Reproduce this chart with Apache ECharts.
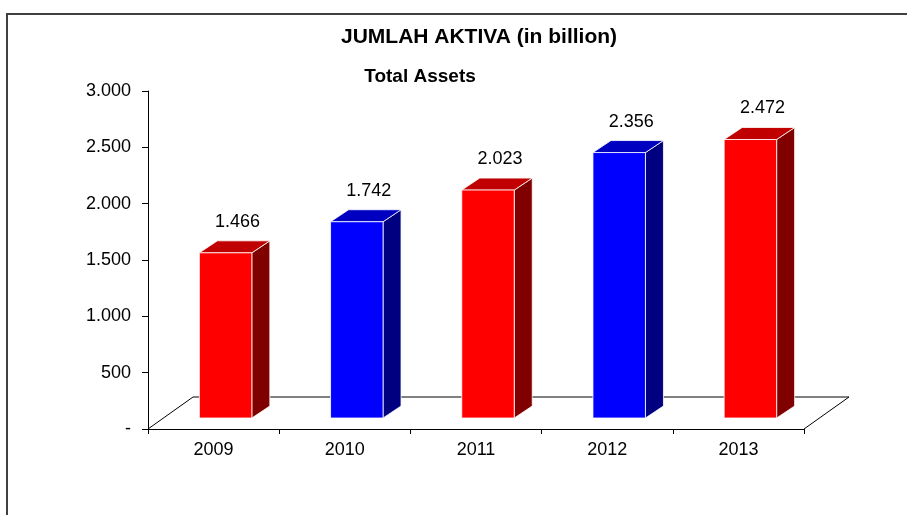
<!DOCTYPE html>
<html>
<head>
<meta charset="utf-8">
<script src="https://cdn.jsdelivr.net/npm/echarts@6/dist/echarts.min.js"></script>
<style>
  html, body { margin: 0; padding: 0; background: #fff; }
  #chart { width: 907px; height: 515px; }
</style>
</head>
<body>
<div id="chart"></div>
<script>
// data
const years = ["2009", "2010", "2011", "2012", "2013"];
const assets = [1466, 1742, 2023, 2356, 2472];
const yTicks = [0, 500, 1000, 1500, 2000, 2500, 3000];

// red / blue alternating, front / top / side faces
const palette = [
  {front: "#ff0000", top: "#c00000", side: "#800000"},
  {front: "#0000ff", top: "#0000c0", side: "#000080"}
];

const FONT = "Liberation Sans, Arial, sans-serif";

function dots(v) {
  if (v === 0) return "-";
  return String(v).replace(/\B(?=(\d{3})+(?!\d))/g, ".");
}

const chart = echarts.init(document.getElementById("chart"));

const options = {
  animation: false,
  textStyle: {fontFamily: FONT},
  title: [
    {
      text: "JUMLAH AKTIVA (in billion)",
      left: 474, top: 22, textAlign: "center",
      textStyle: {fontSize: 21, fontWeight: "bold", color: "#000"}
    },
    {
      text: "Total Assets",
      left: 415, top: 62, textAlign: "center",
      textStyle: {fontSize: 19, fontWeight: "bold", color: "#000"}
    }
  ],
  graphic: [{
    type: "rect",
    shape: {x: 7, y: 14, width: 1000, height: 600},
    style: {fill: "none", stroke: "#404040", lineWidth: 2},
    silent: true
  }],
  grid: {left: 148, right: 103, top: 91, bottom: 86},
  xAxis: {
    type: "category",
    data: years,
    boundaryGap: true,
    axisLine: {lineStyle: {color: "#000", width: 1}},
    axisTick: {show: true, length: 5, lineStyle: {color: "#000"}},
    axisLabel: {color: "#000", fontSize: 18, margin: 12}
  },
  yAxis: {
    type: "value",
    min: yTicks[0],
    max: yTicks[yTicks.length - 1],
    interval: 500,
    axisLine: {show: true, lineStyle: {color: "#000", width: 1}},
    axisTick: {show: true, length: 6, lineStyle: {color: "#000"}},
    splitLine: {show: false},
    axisLabel: {color: "#000", fontSize: 18, margin: 17, formatter: dots}
  },
  series: [
    {
      // 3D floor
      type: "custom",
      z: 1,
      data: [[0, 0]],
      renderItem: function (params, api) {
        const cs = params.coordSys;
        const y0 = cs.y + cs.height;
        const dx = 45, dy = -32;
        return {
          type: "polyline",
          shape: {points: [
            [cs.x, y0], [cs.x + dx, y0 + dy],
            [cs.x + cs.width + dx, y0 + dy], [cs.x + cs.width, y0]
          ]},
          style: {stroke: "#000", lineWidth: 1, fill: "none"}
        };
      }
    },
    {
      type: "custom",
      z: 2,
      data: assets.map((v, i) => [i, v]),
      renderItem: function (params, api) {
        const i = api.value(0);
        const v = api.value(1);
        const base = api.coord([i, 0]);
        const top = api.coord([i, v]);
        const bw = api.size([1, 0])[0] * 0.4;
        const ox = 12, oy = -11;   // bar sits inside the floor
        const dx = 18, dy = -12;   // bar depth
        const x0 = base[0] - bw / 2 + ox, x1 = x0 + bw;
        const yb = base[1] + oy, yt = top[1] + oy;
        const c = palette[i % 2];
        const edge = {stroke: "#ffffff", lineWidth: 0.8};
        return {
          type: "group",
          children: [
            {type: "polygon", shape: {points: [[x1, yt], [x1 + dx, yt + dy], [x1 + dx, yb + dy], [x1, yb]]},
              style: Object.assign({fill: c.side}, edge)},
            {type: "polygon", shape: {points: [[x0, yt], [x1, yt], [x1 + dx, yt + dy], [x0 + dx, yt + dy]]},
              style: Object.assign({fill: c.top}, edge)},
            {type: "polygon", shape: {points: [[x0, yt], [x1, yt], [x1, yb], [x0, yb]]},
              style: Object.assign({fill: c.front}, edge)},
            {type: "text", style: {
              text: dots(v), x: (x0 + x1 + dx) / 2 + 3, y: yt + dy - 19,
              align: "center", verticalAlign: "middle",
              fontSize: 18, fill: "#000", fontFamily: FONT
            }}
          ]
        };
      }
    }
  ]
};

chart.setOption(options);
</script>
</body>
</html>
